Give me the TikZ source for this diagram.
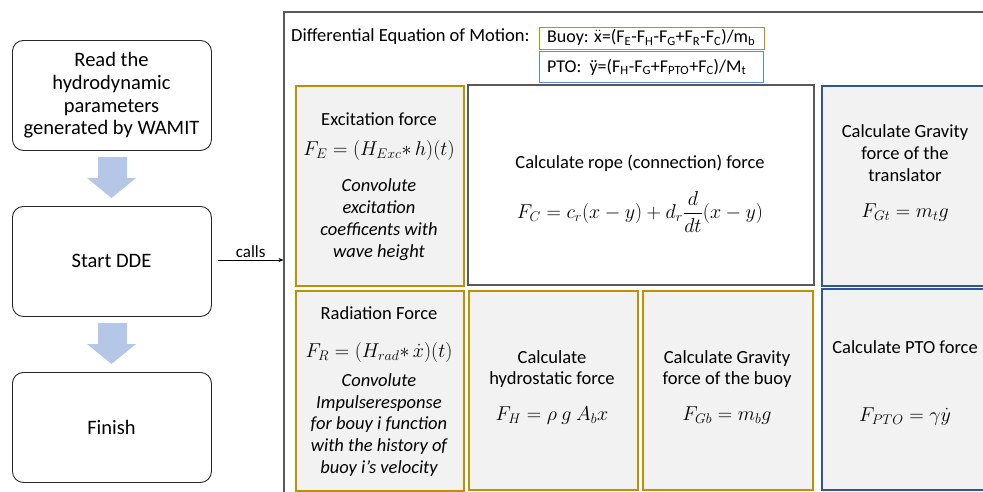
\documentclass[tikz,border=0pt]{standalone}
\usepackage{amsmath}
\usepackage{graphicx}
\usepackage{fontspec}
\setmainfont{Carlito}
\usetikzlibrary{arrows.meta}
\definecolor{goldb}{HTML}{BF9000}
\definecolor{blueb}{HTML}{2F5597}
\definecolor{ptob}{HTML}{5B8BD6}
\definecolor{grayb}{HTML}{595959}
\definecolor{fillg}{HTML}{F2F2F2}
\definecolor{arrowblue}{HTML}{B4C7E7}
\newcommand\bigmath[1]{\scalebox{1.16}{$#1$}}
\begin{document}
\begin{tikzpicture}[x=1pt,y=-1pt,
  flowbox/.style={draw=black!85, line width=0.9pt, rounded corners=11pt, anchor=north west, inner sep=0pt},
  goldbox/.style={draw=goldb, fill=fillg, line width=2pt, anchor=north west, inner sep=0pt},
  bluebox/.style={draw=blueb, fill=fillg, line width=2pt, anchor=north west, inner sep=0pt},
  graybox/.style={draw=grayb, fill=white, line width=2.4pt, anchor=north west, inner sep=0pt},
  lefttxt/.style={font=\fontsize{20.5}{22.7}\selectfont, align=center, inner sep=0pt},
  txt/.style={font=\fontsize{18.5}{21.8}\selectfont, align=center, inner sep=0pt},
  itl/.style={font=\fontsize{18.5}{21.8}\selectfont\itshape, align=center, inner sep=0pt},
  mth/.style={font=\fontsize{17.28}{20}\selectfont, inner sep=0pt},
  blockarrow/.style={fill=arrowblue, draw=none}
]
\useasboundingbox (0,0) rectangle (983,491);
\clip (0,0) rectangle (983,491);

% left flow
\node[flowbox, minimum width=199pt, minimum height=110pt] (read) at (12,40) {};
\node[lefttxt] (readt) at (111.5,95.5) {Read the\\hydrodynamic\\parameters\\generated by WAMIT};
\node[flowbox, minimum width=199pt, minimum height=110pt] (dde) at (12,206) {};
\node[lefttxt] (ddet) at (111.5,261) {Start DDE};
\node[flowbox, minimum width=199pt, minimum height=110pt] (fin) at (12,372) {};
\node[lefttxt] (fint) at (111.5,427) {Finish};

\fill[blockarrow] (98,157) -- (127,157) -- (127,178) -- (136,178) -- (111.5,198) -- (87,178) -- (98,178) -- cycle;
\fill[blockarrow] (98,323) -- (127,323) -- (127,344) -- (136,344) -- (111.5,364) -- (87,344) -- (98,344) -- cycle;

% frame
\draw[grayb, line width=1.2pt] (284,500) -- (284,12) -- (995,12);
\coordinate (frameL) at (283.5,260);
\draw[-{Stealth[length=5pt,width=4pt]}, line width=0.8pt] ([xshift=6pt]dde.east |- frameL) -- node[above, inner sep=1.5pt, font=\fontsize{17}{18}\selectfont] (callst) {calls} (frameL);

\node[txt, anchor=west] (deq) at (291,37) {Differential Equation of Motion:};
\node[draw=goldb, line width=1.3pt, anchor=north west, minimum width=225pt, minimum height=22pt, inner sep=0pt] (buoy) at (539,27) {};
\node[font=\fontsize{18}{20}\selectfont, anchor=west, inner sep=0pt] (buoyt) at (547,37.5) {Buoy: $\ddot{\text{x}}$=(F\textsubscript{E}-F\textsubscript{H}-F\textsubscript{G}+F\textsubscript{R}-F\textsubscript{C})/m\textsubscript{b}};
\node[draw=ptob, line width=1.3pt, anchor=north west, minimum width=224pt, minimum height=31pt, inner sep=0pt] (pto) at (539,51) {};
\node[font=\fontsize{18}{20}\selectfont, anchor=west, inner sep=0pt] (ptot) at (547,67) {PTO:\ \ ÿ=(F\textsubscript{H}-F\textsubscript{G}+F\textsubscript{PTO}+F\textsubscript{C})/M\textsubscript{t}};

% excitation
\node[goldbox, minimum width=168pt, minimum height=200pt] (exc) at (295,85) {};
\node[txt] (exct) at (379,119) {Excitation force};
\node[mth] (excf) at (379,150) {\bigmath{F_E = (H_{Exc}{*}\,h)(t)}};
\node[itl] (exci) at (379,219.5) {Convolute\\excitation\\coefficents with\\wave height};

% radiation
\node[goldbox, minimum width=168pt, minimum height=200pt] (rad) at (295,290) {};
\node[txt] (radt) at (379,313) {Radiation Force};
\node[mth] (radf) at (379,352) {\bigmath{F_R = (H_{rad}{*}\,\dot{x})(t)}};
\node[itl] (radi) at (379,425) {Convolute\\Impulseresponse\\for bouy i function\\with the history of\\buoy i’s velocity};

% rope
\node[graybox, minimum width=346pt, minimum height=200pt] (rope) at (467,84) {};
\node[txt] (ropet) at (640,163) {Calculate rope (connection) force};
\node[mth] (ropef) at (640,212) {\bigmath{F_C = c_r(x-y) + d_r\dfrac{d}{dt}(x-y)}};

% hydrostatic
\node[goldbox, minimum width=169pt, minimum height=199pt] (hyd) at (468,290) {};
\node[txt] (hydt) at (552,369) {Calculate\\hydrostatic force};
\node[mth] (hydf) at (552,416) {\bigmath{F_H = \rho\ g\ A_b x}};

% gravity buoy
\node[goldbox, minimum width=170pt, minimum height=199pt] (gb) at (642,290) {};
\node[txt] (gbt) at (727,369) {Calculate Gravity\\force of the buoy};
\node[mth] (gbf) at (727,416) {\bigmath{F_{Gb} = m_b g}};

% gravity translator
\node[bluebox, minimum width=200pt, minimum height=200pt] (gt) at (821,85) {};
\node[txt] (gtt) at (905,153) {Calculate Gravity\\force of the\\translator};
\node[mth] (gtf) at (905,213) {\bigmath{F_{Gt} = m_t g}};

% PTO force
\node[bluebox, minimum width=200pt, minimum height=201pt] (ptof) at (821,288) {};
\node[txt] (ptoft) at (905,347) {Calculate PTO force};
\node[mth] (ptoff) at (905,417) {\bigmath{F_{PTO} = \gamma\dot{y}}};
\end{tikzpicture}
\end{document}
